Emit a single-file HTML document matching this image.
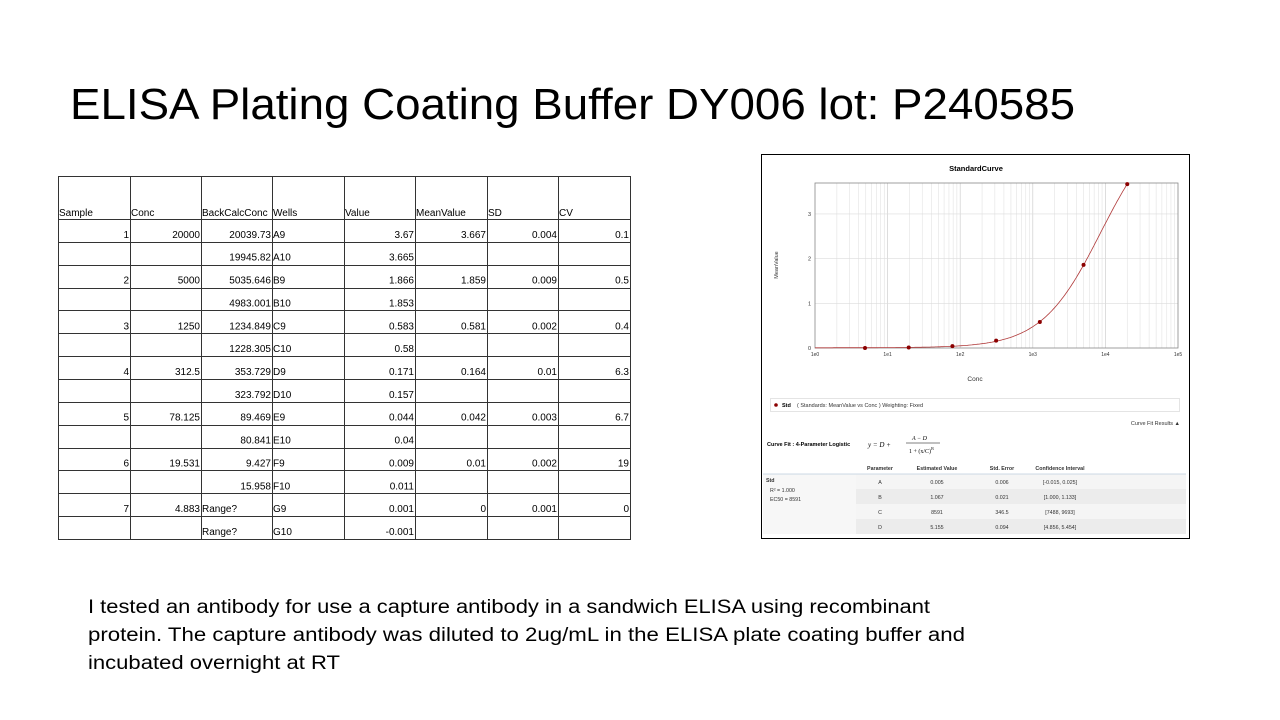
<!DOCTYPE html>
<html><head><meta charset="utf-8"><style>
body{margin:0;background:#fff;}
svg{display:block;font-family:"Liberation Sans",sans-serif;}
</style></head><body>
<svg id="s" width="1280" height="720" viewBox="0 0 1280 720" xmlns="http://www.w3.org/2000/svg">
<rect width="1280" height="720" fill="#fff"/>
<text x="70" y="119" font-size="44" textLength="1005" lengthAdjust="spacingAndGlyphs" fill="#000">ELISA Plating Coating Buffer DY006 lot: P240585</text>
<g font-size="19" fill="#000">
<text x="88" y="613" textLength="842" lengthAdjust="spacingAndGlyphs">I tested an antibody for use a capture antibody in a sandwich ELISA using recombinant</text>
<text x="88" y="641" textLength="877" lengthAdjust="spacingAndGlyphs">protein. The capture antibody was diluted to 2ug/mL in the ELISA plate coating buffer and</text>
<text x="88" y="669" textLength="252" lengthAdjust="spacingAndGlyphs">incubated overnight at RT</text>
</g>
<g id="tbl" font-size="10" fill="#000"></g>
<rect x="761.5" y="154.5" width="428" height="384" fill="#fff" stroke="#000" stroke-width="1"/>
<g id="chart"></g>
<text x="976" y="171" font-size="7.5" font-weight="bold" text-anchor="middle">StandardCurve</text>
<text x="975" y="381" font-size="6.5" text-anchor="middle" fill="#333">Conc</text>
<text transform="translate(778,265) rotate(-90)" font-size="5.5" text-anchor="middle" fill="#333">MeanValue</text>
<rect x="770.5" y="398.5" width="409" height="13" fill="#fff" stroke="#e4e4e4"/>
<circle cx="776" cy="405" r="1.8" fill="#8b0000"/>
<text x="782" y="407" font-size="5.5" font-weight="bold">Std</text>
<text x="797" y="407" font-size="5.5" fill="#333">( Standards: MeanValue vs Conc )  Weighting: Fixed</text>
<text x="1180" y="425" font-size="5.5" text-anchor="end" fill="#333">Curve Fit Results ▲</text>
<text x="767" y="446" font-size="5.5" font-weight="bold">Curve Fit : 4-Parameter Logistic</text>
<text x="868" y="447" font-size="7" font-style="italic" font-family="Liberation Serif">y =   D  +</text>
<text x="912" y="440" font-size="6" font-style="italic" font-family="Liberation Serif">A − D</text>
<line x1="906" y1="443" x2="940" y2="443" stroke="#000" stroke-width="0.5"/>
<text x="909" y="453" font-size="6" font-family="Liberation Serif">1 + (x/C)<tspan font-size="4" dy="-3">B</tspan></text>
<rect x="856" y="474" width="330" height="60" fill="#f5f5f5"/>
<rect x="856" y="489" width="330" height="15" fill="#ececec"/>
<rect x="856" y="519" width="330" height="15" fill="#ececec"/>
<rect x="763" y="474" width="93" height="60" fill="#f7f7f7"/>
<line x1="763" y1="474" x2="1186" y2="474" stroke="#bcd" stroke-width="0.8"/>
<g font-size="5.3" fill="#333" text-anchor="middle">
<text x="880" y="470" font-weight="bold">Parameter</text>
<text x="937" y="470" font-weight="bold">Estimated Value</text>
<text x="1002" y="470" font-weight="bold">Std. Error</text>
<text x="1060" y="470" font-weight="bold">Confidence Interval</text>
<text x="880" y="484">A</text><text x="937" y="484">0.005</text><text x="1002" y="484">0.006</text><text x="1060" y="484">[-0.015, 0.025]</text>
<text x="880" y="499">B</text><text x="937" y="499">1.067</text><text x="1002" y="499">0.021</text><text x="1060" y="499">[1.000, 1.133]</text>
<text x="880" y="514">C</text><text x="937" y="514">8591</text><text x="1002" y="514">346.5</text><text x="1060" y="514">[7488, 9693]</text>
<text x="880" y="529">D</text><text x="937" y="529">5.155</text><text x="1002" y="529">0.094</text><text x="1060" y="529">[4.856, 5.454]</text>
</g>
<g font-size="5.3" fill="#333">
<text x="766" y="482" font-weight="bold">Std</text>
<text x="770" y="492">R² = 1.000</text>
<text x="770" y="501">EC50 = 8591</text>
</g>
</svg>
<script>
const NS="http://www.w3.org/2000/svg";
function el(p,t,a,txt){const e=document.createElementNS(NS,t);for(const k in a)e.setAttribute(k,a[k]);if(txt!==undefined)e.textContent=txt;p.appendChild(e);return e;}
// table
const tb=document.getElementById('tbl');
const cx=[58,130,201,272,344,415,487,558,630];
const ry=[176,219];for(let i=1;i<=14;i++)ry.push(219+i*320/14);
const rows=[
["1","20000","20039.73","A9","3.67","3.667","0.004","0.1"],
["","","19945.82","A10","3.665","","",""],
["2","5000","5035.646","B9","1.866","1.859","0.009","0.5"],
["","","4983.001","B10","1.853","","",""],
["3","1250","1234.849","C9","0.583","0.581","0.002","0.4"],
["","","1228.305","C10","0.58","","",""],
["4","312.5","353.729","D9","0.171","0.164","0.01","6.3"],
["","","323.792","D10","0.157","","",""],
["5","78.125","89.469","E9","0.044","0.042","0.003","6.7"],
["","","80.841","E10","0.04","","",""],
["6","19.531","9.427","F9","0.009","0.01","0.002","19"],
["","","15.958","F10","0.011","","",""],
["7","4.883","Range?","G9","0.001","0","0.001","0"],
["","","Range?","G10","-0.001","","",""]];
const hdr=["Sample","Conc","BackCalcConc","Wells","Value","MeanValue","SD","CV"];
hdr.forEach((h,i)=>el(tb,'text',{x:cx[i]+1,y:216},h));
rows.forEach((r,j)=>{const y=ry[j+2]-4;r.forEach((v,i)=>{if(!v)return;
 const left=(i==3)||(i==2&&v=="Range?");
 el(tb,'text',{x:left?cx[i]+1:cx[i+1]-1,y:y,'text-anchor':left?'start':'end'},v);});});
cx.forEach(x=>el(tb,'line',{x1:x+.5,x2:x+.5,y1:176,y2:539,stroke:'#333','stroke-width':1}));
ry.forEach(y=>el(tb,'line',{x1:58,x2:631,y1:Math.round(y)+.5,y2:Math.round(y)+.5,stroke:'#333','stroke-width':1}));
// chart
const ch=document.getElementById('chart');
const X0=815,X1=1178,Y0=348,YT=183,pd=(X1-X0)/5,pu=44.7;
const X=c=>X0+Math.log10(c)*pd, Y=v=>Y0-v*pu;
for(let d=0;d<5;d++)for(let m=2;m<=9;m++){const x=X(m*Math.pow(10,d));el(ch,'line',{x1:x,x2:x,y1:YT,y2:Y0,stroke:'#e2e2e2','stroke-width':.6});}
for(let d=1;d<5;d++){const x=X(Math.pow(10,d));el(ch,'line',{x1:x,x2:x,y1:YT,y2:Y0,stroke:'#cfcfcf','stroke-width':.7});}
for(let v=1;v<=3;v++)el(ch,'line',{x1:X0,x2:X1,y1:Y(v),y2:Y(v),stroke:'#dcdcdc','stroke-width':.6});
el(ch,'rect',{x:X0,y:YT,width:X1-X0,height:Y0-YT,fill:'none',stroke:'#888','stroke-width':.8});
for(let d=0;d<=5;d++)el(ch,'text',{x:X(Math.pow(10,d)),y:356,'font-size':5,'text-anchor':'middle',fill:'#333'},'1e'+d);
for(let v=0;v<=3;v++)el(ch,'text',{x:811,y:Y(v)+2,'font-size':5.5,'text-anchor':'end',fill:'#333'},''+v);
const A=0.005,B=1.067,C=8591,D=5.155;let p='';
for(let lc=0;lc<=Math.log10(20000);lc+=0.02){const c=Math.pow(10,lc);const v=D+(A-D)/(1+Math.pow(c/C,B));p+=(p?'L':'M')+X(c).toFixed(1)+','+Y(v).toFixed(1);}
el(ch,'path',{d:p,fill:'none',stroke:'#b03a3a','stroke-width':.8});
[[4.883,0],[19.531,.01],[78.125,.042],[312.5,.164],[1250,.581],[5000,1.859],[20000,3.667]].forEach(q=>el(ch,'circle',{cx:X(q[0]),cy:Y(q[1]),r:2,fill:'#8b0000'}));
</script>
</body></html>
